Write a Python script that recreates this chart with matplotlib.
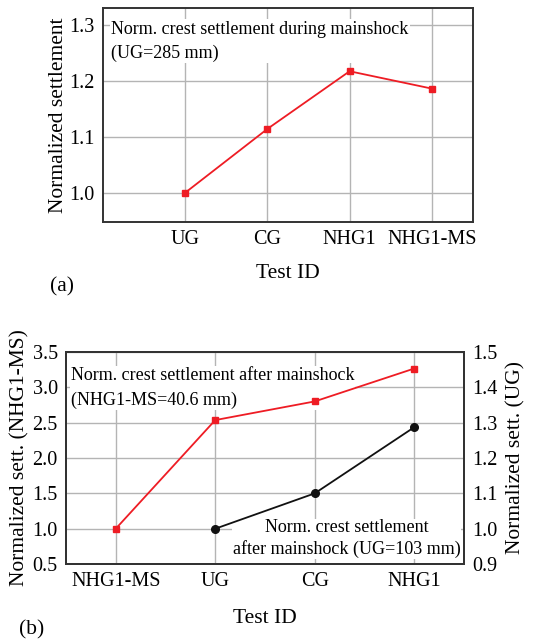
import matplotlib
matplotlib.use("Agg")
import matplotlib.pyplot as plt

plt.rcParams['font.family'] = ['Liberation Serif', 'DejaVu Serif']
plt.rcParams['mathtext.fontset'] = 'stix'

# Panel (a): crest settlement during mainshock, normalized by UG
cats_a = ["UG", "CG", "NHG1", "NHG1-MS"]
vals_a = [1.0, 1.114, 1.217, 1.186]

# Panel (b): crest settlement after mainshock
cats_b = ["NHG1-MS", "UG", "CG", "NHG1"]
red_b = [1.0, 2.536, 2.80, 3.265]          # normalized by NHG1-MS (left axis)
black_cats_b = ["UG", "CG", "NHG1"]
black_b = [1.0, 1.10, 1.287]               # normalized by UG (right axis)

RED = "#ee1c24"
GRID = "#b4b4b4"
SPINE = "#333333"
FS_TICK = 14.5
FS_LAB = 15.5
FS_NOTE = 13

fig = plt.figure(figsize=(5.57, 6.41), dpi=100)

def style(ax):
    for s in ax.spines.values():
        s.set_color(SPINE)
        s.set_linewidth(1.4)
    ax.grid(True, color=GRID, linewidth=1.0)
    ax.set_axisbelow(True)
    ax.tick_params(length=0, labelsize=FS_TICK, pad=6)

# ---- (a)
ax1 = fig.add_axes([0.185, 0.654, 0.664, 0.3335])
xa = list(range(1, len(cats_a) + 1))
ax1.plot(xa, vals_a, color=RED, lw=1.3, marker="s", ms=5, zorder=5)
ax1.set_xlim(0, 4.5)
ax1.set_ylim(0.948, 1.33)
ax1.set_xticks(xa)
ax1.set_xticklabels(cats_a)
ax1.set_yticks([1.0, 1.1, 1.2, 1.3])
ax1.set_yticklabels(["1.0", "1.1", "1.2", "1.3"])
style(ax1)
ax1.set_ylabel("Normalized settlement", fontsize=FS_LAB, labelpad=1)
ax1.set_xlabel("Test ID", fontsize=FS_LAB, labelpad=11)
ax1.text(0.022, 0.94, "Norm. crest settlement during mainshock\n(UG=285 mm)",
         transform=ax1.transAxes, fontsize=FS_NOTE, va="top", ha="left",
         linespacing=1.5,
         bbox=dict(facecolor="white", edgecolor="none", pad=1.0), zorder=4)
fig.text(0.111, 0.552, "(a)", fontsize=FS_LAB, ha="center", va="center")

# ---- (b)
ax2 = fig.add_axes([0.1185, 0.120, 0.7145, 0.331])
xb = list(range(1, len(cats_b) + 1))
ax2.plot(xb, red_b, color=RED, lw=1.3, marker="s", ms=5, zorder=5)
ax2.set_xlim(0.5, 4.5)
ax2.set_ylim(0.5, 3.5)
ax2.set_xticks(xb)
ax2.set_xticklabels(cats_b)
ax2.set_yticks([0.5, 1.0, 1.5, 2.0, 2.5, 3.0, 3.5])
style(ax2)
ax2.set_ylabel("Normalized sett. (NHG1-MS)", fontsize=FS_LAB, labelpad=2)
ax2.set_xlabel("Test ID", fontsize=FS_LAB, labelpad=13)

ax3 = ax2.twinx()
xk = [cats_b.index(c) + 1 for c in black_cats_b]
ax3.plot(xk, black_b, color="#111111", lw=1.3, marker="o", ms=5.5, zorder=5)
ax3.set_ylim(0.9, 1.5)
ax3.set_yticks([0.9, 1.0, 1.1, 1.2, 1.3, 1.4, 1.5])
ax3.tick_params(length=0, labelsize=FS_TICK, pad=6)
for s in ax3.spines.values():
    s.set_color(SPINE)
    s.set_linewidth(1.4)
ax3.set_ylabel("Normalized sett. (UG)", fontsize=FS_LAB, labelpad=6)

ax2.text(0.012, 0.93, "Norm. crest settlement after mainshock\n(NHG1-MS=40.6 mm)",
         transform=ax2.transAxes, fontsize=FS_NOTE, va="top", ha="left",
         linespacing=1.6,
         bbox=dict(facecolor="white", edgecolor="none", pad=0.5), zorder=4)
ax3.text(0.705, 0.12, "Norm. crest settlement\nafter mainshock (UG=103 mm)",
         transform=ax2.transAxes, fontsize=FS_NOTE, va="center", ha="center",
         linespacing=1.25,
         bbox=dict(facecolor="white", edgecolor="none", pad=0.5), zorder=4)
fig.text(0.056, 0.017, "(b)", fontsize=FS_LAB, ha="center", va="center")

fig.savefig("out.png", dpi=100)
